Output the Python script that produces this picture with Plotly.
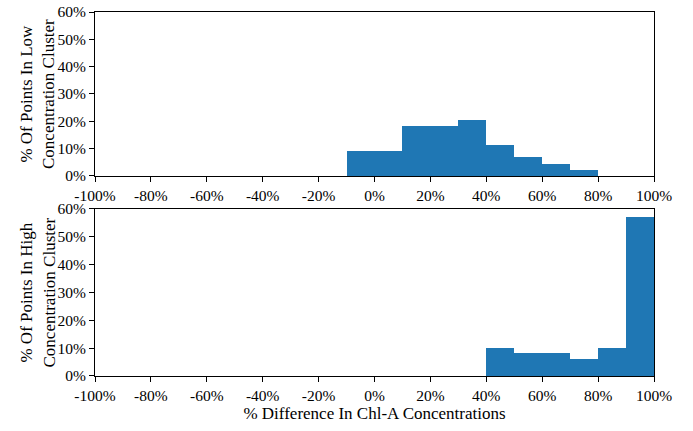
import plotly.graph_objects as go
from plotly.subplots import make_subplots

# Histogram bins: left edges of 10%-wide bins of the Chl-A % difference
bin_width = 10
low_bins = [-10, 0, 10, 20, 30, 40, 50, 60, 70]
low_pct = [9.09, 9.09, 18.18, 18.18, 20.45, 11.36, 6.82, 4.55, 2.27]

high_bins = [40, 50, 60, 70, 80, 90]
high_pct = [10.20, 8.16, 8.16, 6.12, 10.20, 57.14]

x_ticks = list(range(-100, 101, 20))
y_ticks = list(range(0, 61, 10))

bar_color = "#1f77b4"
family = "Liberation Serif, Times New Roman, serif"
tick_font = dict(family=family, size=15.5, color="black")
title_font = dict(family=family, size=17, color="black")

top_domain = [0.5495, 1.0]
bottom_domain = [0.0, 0.4588]

fig = make_subplots(rows=2, cols=1, vertical_spacing=0.0)

for row, bins, vals in [(1, low_bins, low_pct), (2, high_bins, high_pct)]:
    fig.add_trace(
        go.Bar(
            x=[b + bin_width / 2 for b in bins],
            y=vals,
            width=bin_width,
            marker=dict(color=bar_color, line=dict(width=0)),
            showlegend=False,
        ),
        row=row, col=1,
    )

axis_common = dict(
    showline=True, linecolor="black", linewidth=1, mirror=True,
    ticks="outside", ticklen=5, tickwidth=1, tickcolor="black",
    showgrid=False, zeroline=False, tickfont=tick_font, automargin=False,
)

for row in (1, 2):
    fig.update_xaxes(
        range=[-100, 100], tickvals=x_ticks,
        ticktext=[f"{t}%" for t in x_ticks], row=row, col=1, **axis_common,
    )
    fig.update_yaxes(
        range=[0, 60], tickvals=y_ticks,
        ticktext=[f"{t}%" for t in y_ticks], row=row, col=1, **axis_common,
    )

# Two-line rotated y-axis labels placed beside each panel
for dom, label in [(top_domain, "% Of Points In Low<br>Concentration Cluster"),
                   (bottom_domain, "% Of Points In High<br>Concentration Cluster")]:
    fig.add_annotation(
        text=label, textangle=-90, font=title_font,
        xref="paper", yref="paper",
        x=-0.102, y=(dom[0] + dom[1]) / 2,
        xanchor="center", yanchor="middle",
        showarrow=False,
    )

fig.update_layout(
    yaxis=dict(domain=top_domain),
    xaxis2=dict(title=dict(text="% Difference In Chl-A Concentrations",
                           font=title_font, standoff=2)),
    yaxis2=dict(domain=bottom_domain),
    bargap=0,
    width=693, height=431,
    margin=dict(l=95, r=39, t=12, b=55, autoexpand=False),
    paper_bgcolor="white", plot_bgcolor="white",
    font=tick_font,
)

fig.write_html("out.html")
